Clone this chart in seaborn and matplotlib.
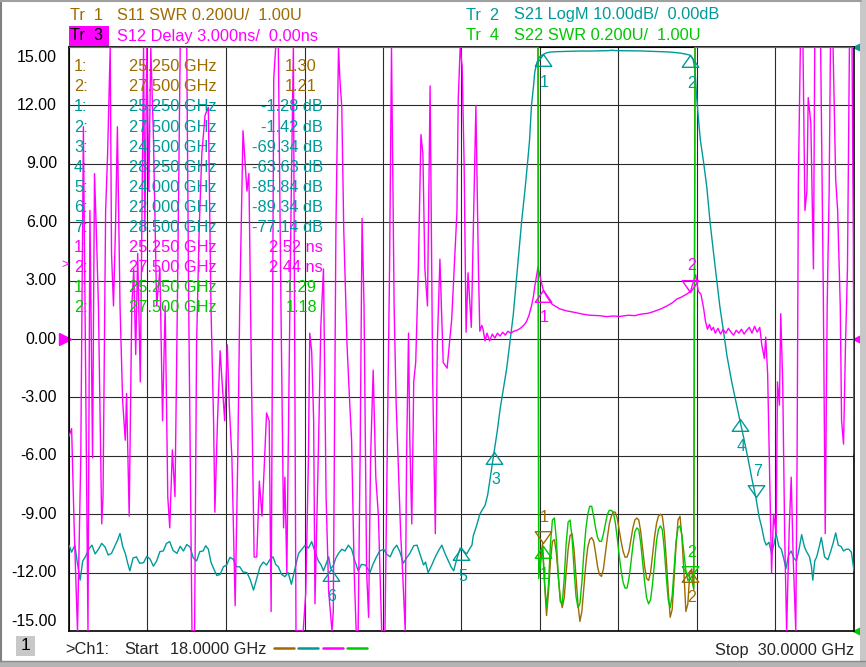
import numpy as np
import matplotlib
matplotlib.use("Agg")
import matplotlib.pyplot as plt
import seaborn as sns
from matplotlib.patches import Rectangle
from matplotlib.lines import Line2D
from matplotlib.transforms import ScaledTranslation

# ---- sweep / scale settings (from the header) ----
f_start, f_stop = 18.0, 30.0
n_div = 10

# ---- Tr1 S11 SWR and Tr4 S22 SWR (in band part, off scale outside) ----
swr_f = [25.18, 25.21, 25.24, 25.27, 25.30, 25.33, 25.36, 25.39, 25.42, 25.45,
         25.48, 25.51, 25.54, 25.57, 25.60, 25.63, 25.66, 25.69, 25.72, 25.75,
         25.78, 25.81, 25.84, 25.87, 25.90, 25.93, 25.96, 25.99, 26.02, 26.05,
         26.08, 26.11, 26.14, 26.17, 26.20, 26.23, 26.26, 26.29, 26.32, 26.35,
         26.38, 26.41, 26.44, 26.47, 26.50, 26.53, 26.56, 26.59, 26.62, 26.65,
         26.68, 26.71, 26.74, 26.77, 26.80, 26.83, 26.86, 26.89, 26.92, 26.95,
         26.98, 27.01, 27.04, 27.07, 27.10, 27.13, 27.16, 27.19, 27.22, 27.25,
         27.28, 27.31, 27.34, 27.37, 27.40, 27.43, 27.46, 27.49, 27.52, 27.55]
s11_swr = [1.200, 1.253, 1.300, 1.160, 1.053, 1.133, 1.240, 1.307, 1.313, 1.267,
           1.187, 1.113, 1.080, 1.113, 1.200, 1.280, 1.327, 1.333, 1.280, 1.187,
           1.093, 1.033, 1.067, 1.147, 1.227, 1.287, 1.313, 1.320, 1.307, 1.267,
           1.220, 1.193, 1.187, 1.213, 1.267, 1.320, 1.367, 1.393, 1.407, 1.407,
           1.387, 1.347, 1.307, 1.273, 1.253, 1.253, 1.273, 1.313, 1.353, 1.380,
           1.387, 1.380, 1.340, 1.280, 1.220, 1.180, 1.173, 1.200, 1.260, 1.320,
           1.367, 1.393, 1.400, 1.393, 1.340, 1.247, 1.140, 1.047, 1.073, 1.180,
           1.293, 1.380, 1.393, 1.320, 1.200, 1.067, 1.093, 1.200, 1.213, 1.140]
s22_swr = [1.180, 1.233, 1.280, 1.167, 1.080, 1.160, 1.300, 1.380, 1.387, 1.313,
           1.187, 1.100, 1.093, 1.180, 1.300, 1.373, 1.380, 1.320, 1.213, 1.120,
           1.080, 1.093, 1.167, 1.267, 1.347, 1.400, 1.427, 1.427, 1.393, 1.353,
           1.320, 1.307, 1.307, 1.333, 1.367, 1.400, 1.413, 1.413, 1.407, 1.373,
           1.320, 1.260, 1.207, 1.167, 1.147, 1.147, 1.180, 1.233, 1.293, 1.340,
           1.353, 1.347, 1.300, 1.233, 1.167, 1.113, 1.093, 1.107, 1.160, 1.233,
           1.307, 1.347, 1.360, 1.347, 1.280, 1.187, 1.107, 1.080, 1.120, 1.213,
           1.307, 1.353, 1.360, 1.327, 1.267, 1.207, 1.173, 1.180, 1.173, 1.147]
swr_edge_f = [18.0, 25.17, 27.57, 30.0]
swr_off = 3.5   # off scale (above top)

# ---- Tr2 S21 LogM (dB) ----
s21_f = [18.00, 18.04, 18.09, 18.13, 18.17, 18.21, 18.25, 18.30, 18.35, 18.40,
         18.45, 18.50, 18.55, 18.60, 18.65, 18.70, 18.74, 18.78, 18.82, 18.86,
         18.90, 18.93, 18.98, 19.03, 19.08, 19.14, 19.19, 19.24, 19.29, 19.34,
         19.39, 19.44, 19.49, 19.54, 19.59, 19.65, 19.70, 19.75, 19.80, 19.85,
         19.90, 19.95, 20.00, 20.05, 20.09, 20.13, 20.17, 20.21, 20.26, 20.31,
         20.36, 20.41, 20.46, 20.51, 20.56, 20.61, 20.66, 20.72, 20.77, 20.82,
         20.87, 20.92, 20.97, 21.02, 21.07, 21.12, 21.16, 21.20, 21.25, 21.30,
         21.35, 21.40, 21.45, 21.51, 21.56, 21.61, 21.66, 21.71, 21.76, 21.81,
         21.85, 21.89, 21.93, 21.97, 22.00, 22.04, 22.08, 22.12, 22.17, 22.22,
         22.27, 22.32, 22.37, 22.42, 22.47, 22.53, 22.57, 22.60, 22.65, 22.70,
         22.75, 22.81, 22.86, 22.91, 22.96, 23.01, 23.06, 23.11, 23.16, 23.21,
         23.27, 23.32, 23.37, 23.42, 23.45, 23.49, 23.55, 23.60, 23.65, 23.70,
         23.75, 23.80, 23.84, 23.88, 23.93, 23.98, 24.00, 24.04, 24.08, 24.12,
         24.16, 24.18, 24.23, 24.28, 24.32, 24.36, 24.40, 24.45, 24.50, 24.55,
         24.59, 24.64, 24.69, 24.74, 24.79, 24.84, 24.88, 24.92, 24.97, 25.01,
         25.04, 25.07, 25.10, 25.12, 25.15, 25.17, 25.20, 25.25, 25.30, 25.35,
         25.45, 25.60, 25.75, 25.86, 25.95, 26.10, 26.25, 26.30, 26.35, 26.50,
         26.65, 26.80, 27.00, 27.15, 27.24, 27.35, 27.44, 27.50, 27.54, 27.57,
         27.59, 27.62, 27.65, 27.70, 27.75, 27.80, 27.85, 27.90, 27.95, 28.00,
         28.06, 28.13, 28.19, 28.25, 28.31, 28.38, 28.44, 28.50, 28.55, 28.59,
         28.63, 28.66, 28.70, 28.74, 28.78, 28.81, 28.85, 28.89, 28.93, 28.96,
         29.00, 29.04, 29.08, 29.12, 29.16, 29.20, 29.24, 29.27, 29.32, 29.35,
         29.37, 29.40, 29.43, 29.47, 29.50, 29.55, 29.60, 29.64, 29.68, 29.72,
         29.76, 29.80, 29.84, 29.88, 29.92, 29.96, 30.00]
s21_db = [-85.3, -86.5, -85.3, -88.5, -91.3, -88.0, -87.3, -86.0, -85.3, -86.8,
          -86.0, -85.0, -85.6, -87.0, -86.7, -85.5, -84.5, -83.3, -85.5, -86.7,
          -88.5, -89.7, -87.5, -87.3, -88.4, -88.3, -87.2, -87.7, -88.9, -88.0,
          -86.4, -86.3, -85.0, -84.7, -86.2, -86.7, -85.5, -86.3, -85.2, -85.6,
          -87.5, -88.0, -86.4, -86.3, -85.4, -86.0, -88.2, -89.3, -90.5, -90.3,
          -89.0, -88.7, -87.4, -87.7, -89.0, -89.0, -89.9, -90.0, -91.2, -93.0,
          -91.0, -89.0, -88.2, -88.7, -87.8, -87.3, -88.6, -89.0, -90.3, -90.7,
          -90.0, -92.0, -89.5, -86.7, -86.0, -85.3, -85.8, -84.7, -86.4, -88.0,
          -88.6, -89.7, -88.5, -87.3, -89.34, -88.8, -87.5, -86.7, -86.0, -86.3,
          -85.3, -86.0, -88.0, -89.7, -88.6, -88.7, -89.4, -90.0, -88.5, -87.3,
          -86.3, -86.0, -86.9, -87.3, -86.0, -85.3, -86.5, -88.4, -87.5, -86.7,
          -85.4, -85.3, -87.0, -88.7, -88.2, -90.0, -88.6, -87.3, -86.2, -85.3,
          -86.8, -88.0, -89.0, -89.7, -87.6, -85.8, -85.84, -86.4, -86.8, -86.0,
          -85.3, -83.7, -82.0, -80.0, -79.2, -78.5, -76.7, -73.0, -69.34, -65.5,
          -62.0, -58.5, -55.1, -50.5, -46.0, -39.7, -34.8, -29.8, -24.5, -19.8,
          -16.0, -10.0, -6.8, -4.3, -2.8, -2.1, -1.6, -1.28, -1.0, -0.87,
          -0.80, -0.75, -0.72, -0.68, -0.70, -0.66, -0.62, -0.55, -0.62, -0.64,
          -0.66, -0.70, -0.78, -0.84, -0.92, -1.05, -1.25, -1.42, -2.1, -4.0,
          -7.9, -12.0, -15.8, -19.7, -24.0, -30.0, -35.0, -39.8, -44.5, -48.3,
          -53.0, -57.3, -60.5, -63.63, -66.7, -70.5, -74.0, -77.14, -80.5, -82.3,
          -84.5, -85.3, -84.8, -86.7, -85.0, -83.3, -85.5, -86.0, -87.8, -89.3,
          -87.0, -86.3, -87.5, -88.0, -86.0, -83.5, -85.5, -86.3, -87.3, -89.0,
          -91.3, -88.0, -87.3, -85.5, -84.0, -87.3, -87.8, -86.5, -85.0, -83.2,
          -85.3, -85.5, -86.3, -86.0, -86.0, -86.5, -89.7]

# ---- Tr3 S12 group delay (ns), +-16 means off scale ----
s12_f = [18.00, 18.04, 18.08, 18.13, 18.18, 18.22, 18.24, 18.29, 18.32, 18.36,
         18.39, 18.42, 18.45, 18.50, 18.52, 18.56, 18.59, 18.63, 18.65, 18.68,
         18.71, 18.74, 18.78, 18.82, 18.86, 18.88, 18.92, 18.96, 18.99, 19.02,
         19.05, 19.09, 19.14, 19.16, 19.19, 19.22, 19.25, 19.29, 19.34, 19.39,
         19.43, 19.47, 19.51, 19.54, 19.58, 19.62, 19.66, 19.70, 19.80, 19.83,
         19.88, 19.92, 19.95, 19.99, 20.03, 20.08, 20.13, 20.17, 20.21, 20.23,
         20.27, 20.31, 20.34, 20.38, 20.42, 20.45, 20.49, 20.54, 20.58, 20.61,
         20.66, 20.72, 20.75, 20.79, 20.83, 20.87, 20.91, 20.95, 20.98, 21.02,
         21.06, 21.09, 21.13, 21.16, 21.20, 21.24, 21.28, 21.30, 21.33, 21.35,
         21.39, 21.43, 21.47, 21.58, 21.62, 21.66, 21.68, 21.71, 21.74, 21.76,
         21.81, 21.85, 21.89, 21.93, 21.97, 22.02, 22.04, 22.08, 22.12, 22.14,
         22.17, 22.20, 22.25, 22.29, 22.32, 22.36, 22.39, 22.42, 22.45, 22.48,
         22.51, 22.55, 22.58, 22.61, 22.65, 22.69, 22.73, 22.78, 22.83, 22.87,
         22.90, 22.93, 22.97, 23.00, 23.03, 23.07, 23.10, 23.14, 23.16, 23.19,
         23.21, 23.24, 23.27, 23.30, 23.34, 23.38, 23.41, 23.44, 23.48, 23.52,
         23.56, 23.60, 23.63, 23.67, 23.70, 23.72, 23.78, 23.80, 23.85, 23.93,
         23.95, 23.98, 24.01, 24.04, 24.07, 24.10, 24.15, 24.22, 24.26, 24.28,
         24.31, 24.33, 24.36, 24.39, 24.43, 24.47, 24.51, 24.55, 24.59, 24.63,
         24.67, 24.71, 24.75, 24.80, 24.85, 24.90, 24.95, 24.99, 25.03, 25.07,
         25.10, 25.12, 25.15, 25.17, 25.20, 25.25, 25.30, 25.38, 25.50, 25.60,
         25.71, 25.85, 25.96, 26.10, 26.22, 26.32, 26.42, 26.55, 26.65, 26.73,
         26.85, 26.93, 27.05, 27.14, 27.22, 27.29, 27.36, 27.44, 27.50, 27.55,
         27.58, 27.62, 27.66, 27.70, 27.73, 27.76, 27.79, 27.82, 27.85, 27.88,
         27.92, 27.96, 28.00, 28.04, 28.08, 28.12, 28.16, 28.20, 28.24, 28.28,
         28.32, 28.36, 28.40, 28.44, 28.48, 28.52, 28.56, 28.59, 28.63, 28.65,
         28.68, 28.74, 28.77, 28.81, 28.83, 28.86, 28.88, 28.91, 28.94, 28.97,
         29.01, 29.04, 29.07, 29.11, 29.13, 29.15, 29.18, 29.22, 29.25, 29.28,
         29.30, 29.34, 29.38, 29.40, 29.45, 29.49, 29.53, 29.56, 29.59, 29.62,
         29.64, 29.68, 29.72, 29.75, 29.79, 29.81, 29.84, 29.87, 29.90, 29.93,
         29.97, 29.99, 30.00]
s12_ns = [-5.0, -4.6, -9.8, -16, -6.1, 10.9, 3.6, -16, 6.6, -6.1,
          8.5, 5.3, 1.7, -9.5, -8.1, 6.6, 9.5, 16, 4.4, 1.7,
          5.6, 10.9, 1.7, -3.2, -5.2, -2.8, -9.1, 1.7, 3.6, -0.8,
          4.4, -2.2, 16, 5.6, 16, 7.6, 16, 10.5, 1.7, 3.6,
          -4.2, 1.7, -8.1, -9.7, -5.7, -8.1, 2.7, 16, 16, 1.7,
          -16, -16, -0.3, 5.6, 9.5, 11.5, 11.9, 1.7, -4.2, -8.9,
          -4.2, -0.6, -2.2, -4.2, -0.3, -3.4, -6.1, -13.7, -6.1, 1.7,
          10.7, 7.6, 8.5, -2.2, -11.2, -11.2, -7.3, -9.1, -6.9, -3.8,
          -4.2, -14.0, 13.4, 16, 16, 1.7, -9.7, -7.1, -12.0, -6.1,
          5.6, 16, -16, -16, -13.0, -6.1, 0.3, -0.65, -4.2, -13.6,
          -6.1, 0.7, 3.6, -8.1, -13.0, -16, -14.0, 5.6, 16, 13.4,
          11.9, 5.6, -0.3, -3.2, -5.2, -12.0, -16, -16, -6.1, 6.2,
          1.7, -12.0, -14.3, -6.1, -1.6, -7.1, -9.1, -16, -16, -4.2,
          3.6, 16, 1.7, -3.2, -6.1, -10.0, -12.0, -16, -6.1, 0.3,
          -5.2, -9.5, -2.2, -1.2, 3.6, 10.5, 9.5, 3.6, 1.7, 13.0,
          -2.2, -10.0, -0.3, 4.1, 1.0, -1.2, -1.5, -0.8, 1.0, 6.5,
          12.3, 16, 14.0, 9.0, 0.35, 3.4, 0.6, 12.0, 3.4, 0.4,
          0.7, 0.5, -0.1, 0.3, -0.1, 0.25, 0.05, 0.3, 0.15, 0.35,
          0.2, 0.4, 0.3, 0.4, 0.45, 0.55, 0.7, 0.87, 1.2, 1.7,
          2.2, 2.7, 3.3, 3.7, 3.2, 2.52, 2.2, 1.8, 1.55, 1.45,
          1.38, 1.28, 1.22, 1.2, 1.15, 1.18, 1.16, 1.22, 1.2, 1.27,
          1.32, 1.4, 1.55, 1.7, 1.85, 2.05, 2.15, 2.3, 2.44, 3.0,
          3.3, 2.45, 2.3, 1.6, 0.9, 0.5, 0.75, 0.45, 0.6, 0.3,
          0.55, 0.25, 0.5, 0.3, 0.55, 0.35, 0.2, 0.45, 0.3, 0.5,
          0.25, 0.45, 0.6, 0.3, 0.65, 0.35, 0.6, -0.3, -1.0, 0.1,
          -1.8, -12.0, -9.0, -10.0, -2.2, -3.4, 1.3, -2.2, -10.0, -16,
          -9.7, -7.1, -11.2, -16, -6.1, 8.2, 16, 16, 6.6, 7.6,
          12.4, 11.1, 3.6, 16, 16, 16, 2.7, -10.0, 1.7, 7.6,
          16, 16, 8.2, 6.6, 1.7, -4.2, -5.4, -0.3, 3.6, 16,
          16, 5.0, -5.9]

# ---- marker tables ----
s11_mk_f = [25.25, 27.5]
s11_mk = [1.30, 1.21]
s21_mk_f = [25.25, 27.5, 24.5, 28.25, 24.0, 22.0, 28.5]
s21_mk = [-1.28, -1.42, -69.34, -63.63, -85.84, -89.34, -77.14]
s12_mk_f = [25.25, 27.5]
s12_mk = [2.52, 2.44]
s22_mk_f = [25.25, 27.5]
s22_mk = [1.29, 1.18]

BROWN = '#9E6B00'
TEAL = '#009A9A'
MAGENTA = '#FF00FF'
GREEN = '#00C800'
FS = 11.8


def to_disp(vals, per_div, ref_val, ref_pos):
    # instrument display: 3 screen units per division, clipped to the screen
    d = ref_pos + (np.asarray(vals, dtype=float) - ref_val) / per_div * 3.0
    return np.clip(d, -15, 15)


swr_disp = lambda v: to_disp(v, 0.2, 1.0, -15)
db_disp = lambda v: to_disp(v, 10.0, 0.0, 15)
ns_disp = lambda v: to_disp(v, 3.0, 0.0, 0)

sns.set_theme(style="white")
plt.rcParams['font.family'] = ['Liberation Sans', 'DejaVu Sans']

W, H = 866, 667
fig = plt.figure(figsize=(W / 100, H / 100), dpi=100)
fig.patch.set_facecolor('white')


def fx(px):
    return px / W


def fy(py):
    return 1 - py / H


ax = fig.add_axes([fx(69), fy(631), fx(854) - fx(69), fy(47) - fy(631)])
ax.set_xlim(f_start, f_stop)
ax.set_ylim(-15, 15)
yt = np.arange(-15, 16, 3)
ax.set_xticks(np.linspace(f_start, f_stop, n_div + 1))
ax.set_yticks(yt)
ax.tick_params(length=0, labelbottom=False, labelleft=False)
ax.grid(True, color='#2b2b2b', lw=0.8)
for s in ax.spines.values():
    s.set_color('black')
    s.set_linewidth(1.2)

# y labels (end labels sit inside the frame like on the analyzer)
ylab_tr = ax.get_yaxis_transform()
for v in yt:
    off = -0.10 if v == 15 else (0.10 if v == -15 else 0.0)
    tr = ylab_tr + ScaledTranslation(-0.12, off, fig.dpi_scale_trans)
    ax.text(0, v, f"{v:.2f}", transform=tr, ha='right', va='center',
            fontsize=11.5, color='black')

# traces, in trace order
s11_f_all = swr_edge_f[:2] + swr_f + swr_edge_f[2:]
s11_all = [swr_off, swr_off] + s11_swr + [swr_off, swr_off]
s22_all = [swr_off, swr_off] + s22_swr + [swr_off, swr_off]

lw = 1.0
sns.lineplot(x=s11_f_all, y=swr_disp(s11_all), ax=ax, color=BROWN, lw=lw,
             estimator=None, sort=False, zorder=3)
sns.lineplot(x=s21_f, y=db_disp(s21_db), ax=ax, color=TEAL, lw=lw,
             estimator=None, sort=False, zorder=3)
sns.lineplot(x=s12_f, y=ns_disp(s12_ns), ax=ax, color=MAGENTA, lw=lw,
             estimator=None, sort=False, zorder=3)
sns.lineplot(x=s11_f_all, y=swr_disp(s22_all), ax=ax, color=GREEN, lw=lw,
             estimator=None, sort=False, zorder=3.1)

# markers: apex on the trace, triangle below (up) or above (down)
TRI_UP = [(0, 0), (-0.7, -1.0), (0.7, -1.0), (0, 0)]
TRI_DN = [(0, 0), (-0.7, 1.0), (0.7, 1.0), (0, 0)]


def draw_markers(fs, ds, color, dirs):
    for i, (f, d, up) in enumerate(zip(fs, ds, dirs)):
        ax.plot([f], [d], ls='none', marker=TRI_UP if up else TRI_DN, ms=17,
                mfc='none', mec=color, mew=1.0, zorder=5, clip_on=False)
        ax.annotate(str(i + 1), xy=(f, d), xytext=(1, -20 if up else 19),
                    textcoords='offset points', ha='center', va='center',
                    color=color, fontsize=11.5, zorder=6)


draw_markers(s11_mk_f, swr_disp(s11_mk), BROWN, [False, True])
draw_markers(s21_mk_f, db_disp(s21_mk), TEAL,
             [True, True, True, True, True, True, False])
draw_markers(s12_mk_f, ns_disp(s12_mk), MAGENTA, [True, False])
draw_markers(s22_mk_f, swr_disp(s22_mk), GREEN, [True, False])

# reference position arrows
yax = ax.get_yaxis_transform()
ax.plot([1.006], [15], marker='<', ms=9, color=TEAL, transform=yax, clip_on=False)
ax.plot([1.006], [0], marker='<', ms=9, color=MAGENTA, transform=yax, clip_on=False)
ax.plot([1.006], [-15], marker='<', ms=9, color=GREEN, transform=yax, clip_on=False)
ax.plot([-0.005], [0], marker='>', ms=9, color=MAGENTA, transform=yax, clip_on=False)
fig.text(fx(61), fy(265), '>', color=MAGENTA, fontsize=9, va='center')

# marker readout table
rows = []
for i, (f, v) in enumerate(zip(s11_mk_f, s11_mk)):
    rows.append((f"{i + 1}:", f"{f:.3f} GHz", f"{v:.2f}", BROWN, 317))
for i, (f, v) in enumerate(zip(s21_mk_f, s21_mk)):
    rows.append((f"{i + 1}:", f"{f:.3f} GHz", f"{v:.2f} dB", TEAL, 323))
for i, (f, v) in enumerate(zip(s12_mk_f, s12_mk)):
    rows.append((f"{i + 1}:", f"{f:.3f} GHz", f"{v:.2f} ns", MAGENTA, 323))
for i, (f, v) in enumerate(zip(s22_mk_f, s22_mk)):
    rows.append((f"{i + 1}:", f"{f:.3f} GHz", f"{v:.2f}", GREEN, 317))
for k, (n, fs, vs, c, xr) in enumerate(rows):
    y = fy(66.7 + 20.1 * k)
    fig.text(fx(74), y, n, color=c, fontsize=FS, va='center', zorder=10)
    fig.text(fx(129), y, fs, color=c, fontsize=FS, va='center', zorder=10)
    fig.text(fx(xr), y, vs, color=c, fontsize=FS, va='center', ha='right', zorder=10)

# header
fig.patches.append(Rectangle((fx(69), fy(46)), fx(109) - fx(69), fy(26) - fy(46),
                             transform=fig.transFigure, facecolor=MAGENTA,
                             edgecolor='none'))
hdr = [(70, 15, "Tr  1", BROWN), (117, 15, "S11 SWR 0.200U/  1.00U", BROWN),
       (70, 36, "Tr  3", 'black'), (117, 36, "S12 Delay 3.000ns/  0.00ns", MAGENTA),
       (466, 15, "Tr  2", TEAL), (514, 15, "S21 LogM 10.00dB/  0.00dB", TEAL),
       (466, 36, "Tr  4", GREEN), (514, 36, "S22 SWR 0.200U/  1.00U", GREEN)]
for x, y, t, c in hdr:
    fig.text(fx(x), fy(y), t, color=c, fontsize=FS, va='center')

# footer
fig.patches.append(Rectangle((fx(16), fy(656)), fx(35) - fx(16), fy(636) - fy(656),
                             transform=fig.transFigure, facecolor='#c8c8c8',
                             edgecolor='none'))
fig.text(fx(25.5), fy(646), "1", fontsize=12.5, ha='center', va='center', color='black')
fig.text(fx(65), fy(650), ">Ch1:", fontsize=FS, va='center')
fig.text(fx(124), fy(650), "Start", fontsize=FS, va='center')
fig.text(fx(170), fy(650), "18.0000 GHz", fontsize=FS, va='center')
fig.text(fx(854), fy(650), "Stop  30.0000 GHz", fontsize=FS, va='center', ha='right')
for x0, c in zip([274, 298, 323, 347], [BROWN, TEAL, MAGENTA, GREEN]):
    fig.add_artist(Line2D([fx(x0), fx(x0 + 20)], [fy(648), fy(648)], color=c,
                          lw=1.8, transform=fig.transFigure))

# window frame
fig.add_artist(Line2D([fx(1), fx(1)], [fy(0), fy(661)], color='#808080', lw=1.5,
                      transform=fig.transFigure))
fig.add_artist(Line2D([fx(0), fx(861)], [fy(1), fy(1)], color='#a0a0a0', lw=1.5,
                      transform=fig.transFigure))
fig.patches.append(Rectangle((fx(860), fy(661)), fx(866) - fx(860), 1 - fy(661),
                             transform=fig.transFigure, facecolor='#c8c8c8',
                             edgecolor='none'))
fig.patches.append(Rectangle((0, 0), 1, fy(661), transform=fig.transFigure,
                             facecolor='#b4b4b4', edgecolor='none'))
fig.add_artist(Line2D([0, 1], [fy(661), fy(661)], color='#8a8a8a', lw=1.0,
                      transform=fig.transFigure))

fig.savefig("out.png", dpi=100)
